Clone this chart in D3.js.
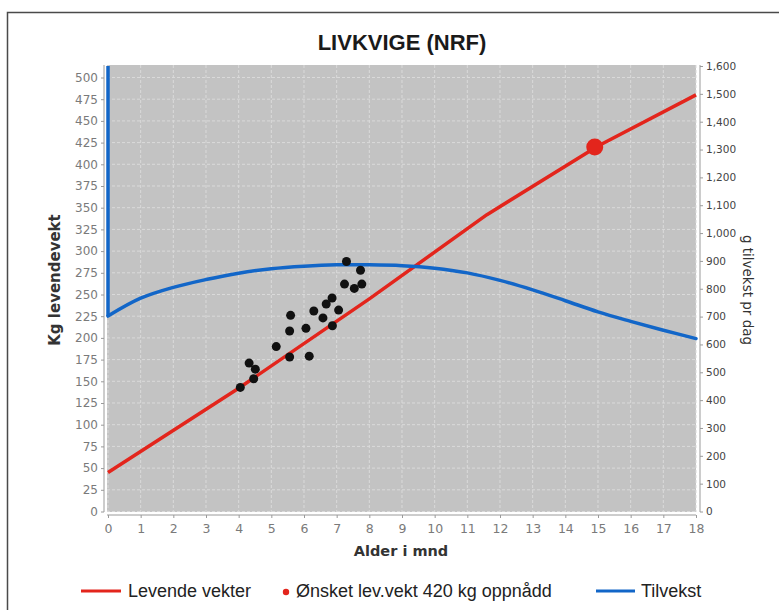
<!DOCTYPE html>
<html><head><meta charset="utf-8">
<script src="https://cdn.jsdelivr.net/npm/d3@7"></script>
<style>body{margin:0;background:#fff;} svg{display:block}</style>
</head><body><svg id="c" width="779" height="610"></svg>
<script>
// ---- data ----
const title = "LIVKVIGE (NRF)";
const monthTicks = d3.range(0, 19);
const kgTicks = d3.range(0, 501, 25);
const gainTicks = d3.range(0, 1601, 100);

const weightMonth = [0, 4, 8, 11.6, 15, 18];
const weightKg    = [45, 142, 245, 342, 421, 480];

const gainMonth = [0, 0, 1, 2, 3, 4, 5, 6, 7, 8, 9, 10, 11, 12, 13, 14, 15, 16, 17, 18];
const gainG     = [1600, 702, 766, 805, 833, 856, 872, 881, 886, 886, 883, 874, 857, 830, 796, 757, 717, 683, 651, 621];

const obsMonth = [7.30, 7.73, 7.24, 7.54, 7.77, 6.86, 6.68, 6.30, 7.06, 6.58, 5.59, 5.56, 6.06, 6.87, 5.15, 5.56, 6.16, 4.32, 4.51, 4.46, 4.05];
const obsKg    = [288, 278, 262, 257, 262, 246, 239, 231, 232, 223, 226, 208, 211, 214, 190, 178, 179, 171, 164, 153, 143];

const targetMonth = [14.9];
const targetKg = [420];

const legendLabels = ["Levende vekter", "Ønsket lev.vekt 420 kg oppnådd", "Tilvekst"];
const colRed = "#e3251c", colBlue = "#1266c8";

// ---- layout ----
const svg = d3.select("#c");
const X0 = 107, X1 = 696, Y0 = 65, Y1 = 512;
const x = d3.scaleLinear().domain([0, 18]).range([108, 696]);
const yL = d3.scaleLinear().domain([0, 500]).range([511.5, 77.5]);
const yR = d3.scaleLinear().domain([0, 1600]).range([511.5, 66]);

// frame
svg.append("path").attr("d", "M7.5,612 L7.5,12.5 L781,12.5")
  .attr("fill", "none").attr("stroke", "#4a4a4a").attr("stroke-width", 1.5);

// title
svg.append("text").attr("x", 402).attr("y", 50).attr("text-anchor", "middle")
  .attr("font-family", "Liberation Sans, Arial, sans-serif").attr("font-weight", "bold")
  .attr("font-size", 22).attr("fill", "#1a1a1a").text(title);

// plot background
svg.append("rect").attr("x", X0).attr("y", Y0).attr("width", X1 - X0).attr("height", Y1 - Y0)
  .attr("fill", "#c3c3c3");

// grid
const g = svg.append("g");
g.selectAll(".gx").data(monthTicks).join("line")
  .attr("x1", d => x(d)).attr("x2", d => x(d)).attr("y1", Y0).attr("y2", Y1)
  .attr("stroke", "#dadada").attr("stroke-width", 1).attr("stroke-dasharray", "3,2");
g.selectAll(".gy").data(kgTicks).join("line")
  .attr("x1", X0).attr("x2", X1).attr("y1", d => yL(d)).attr("y2", d => yL(d))
  .attr("stroke", "#dadada").attr("stroke-width", 1).attr("stroke-dasharray", "3,2");

// axes
const axStyle = (sel, color, size) => {
  sel.selectAll("path").attr("stroke", "#9a9a9a");
  sel.selectAll("line").attr("stroke", "#9a9a9a");
  sel.selectAll("text").attr("fill", color).attr("font-size", size)
    .attr("font-family", "DejaVu Sans, sans-serif");
};
const axL = svg.append("g").attr("transform", "translate(104,0)")
  .call(d3.axisLeft(yL).tickValues(kgTicks).tickSize(3).tickPadding(3).tickSizeOuter(0));
axL.select(".domain").attr("d", `M0,${Y0}V${Y1}`);
axStyle(axL, "#7a7a7a", 12);

const axR = svg.append("g").attr("transform", "translate(700,0)")
  .call(d3.axisRight(yR).tickValues(gainTicks).tickFormat(d3.format(",")).tickSize(3).tickPadding(3).tickSizeOuter(0));
axR.select(".domain").attr("d", `M0,${Y0}V${Y1}`);
axStyle(axR, "#444", 10.5);

const axB = svg.append("g").attr("transform", "translate(0,515)")
  .call(d3.axisBottom(x).tickValues(monthTicks).tickFormat(d3.format("d")).tickSize(3).tickPadding(6).tickSizeOuter(0));
axB.select(".domain").attr("d", `M${X0},0H${X1}`);
axStyle(axB, "#7a7a7a", 12.5);

// axis titles
svg.append("text").attr("x", 401).attr("y", 556).attr("text-anchor", "middle")
  .attr("font-family", "DejaVu Sans, sans-serif").attr("font-weight", "bold")
  .attr("font-size", 14.5).attr("fill", "#333").text("Alder i mnd");
svg.append("text").attr("transform", "translate(60,280) rotate(-90)").attr("text-anchor", "middle")
  .attr("font-family", "DejaVu Sans, sans-serif").attr("font-weight", "bold")
  .attr("font-size", 15).attr("fill", "#333").text("Kg levendevekt");
svg.append("text").attr("transform", "translate(743,290) rotate(90)").attr("text-anchor", "middle")
  .attr("font-family", "DejaVu Sans, sans-serif")
  .attr("font-size", 13.5).attr("fill", "#333").text("g tilvekst pr dag");

// series
const plot = svg.append("g");
const weightData = weightMonth.map((m, i) => [m, weightKg[i]]);
plot.append("path").datum(weightData)
  .attr("d", d3.line().x(d => x(d[0])).y(d => yL(d[1])))
  .attr("fill", "none").attr("stroke", colRed).attr("stroke-width", 3.5).attr("stroke-linejoin", "round");

const gainData = gainMonth.map((m, i) => [m, gainG[i]]);
plot.append("path").datum(gainData.slice(0, 2))
  .attr("d", d3.line().x(d => x(d[0])).y(d => yR(d[1])))
  .attr("fill", "none").attr("stroke", colBlue).attr("stroke-width", 3.5);
plot.append("path").datum(gainData.slice(1))
  .attr("d", d3.line().x(d => x(d[0])).y(d => yR(d[1])).curve(d3.curveCatmullRom.alpha(0.5)))
  .attr("fill", "none").attr("stroke", colBlue).attr("stroke-width", 3.5).attr("stroke-linecap", "round");

const obs = obsMonth.map((m, i) => [m, obsKg[i]]);
plot.selectAll(".obs").data(obs).join("circle")
  .attr("cx", d => x(d[0])).attr("cy", d => yL(d[1])).attr("r", 4.5).attr("fill", "#111");

const tgt = targetMonth.map((m, i) => [m, targetKg[i]]);
plot.selectAll(".tgt").data(tgt).join("circle")
  .attr("cx", d => x(d[0])).attr("cy", d => yL(d[1])).attr("r", 8.5).attr("fill", colRed);

// legend
const lg = svg.append("g").attr("font-family", "Liberation Sans, Arial, sans-serif")
  .attr("font-size", 18).attr("fill", "#222");
const ly = 591;
lg.append("line").attr("x1", 81).attr("x2", 121).attr("y1", ly).attr("y2", ly).attr("stroke", colRed).attr("stroke-width", 3);
lg.append("text").attr("x", 128).attr("y", ly + 6).text(legendLabels[0]);
lg.append("circle").attr("cx", 286).attr("cy", ly + 1).attr("r", 3.2).attr("fill", colRed);
lg.append("text").attr("x", 296).attr("y", ly + 6).text(legendLabels[1]);
lg.append("line").attr("x1", 596).attr("x2", 635).attr("y1", ly).attr("y2", ly).attr("stroke", colBlue).attr("stroke-width", 3);
lg.append("text").attr("x", 641).attr("y", ly + 6).text(legendLabels[2]);
</script></body></html>
